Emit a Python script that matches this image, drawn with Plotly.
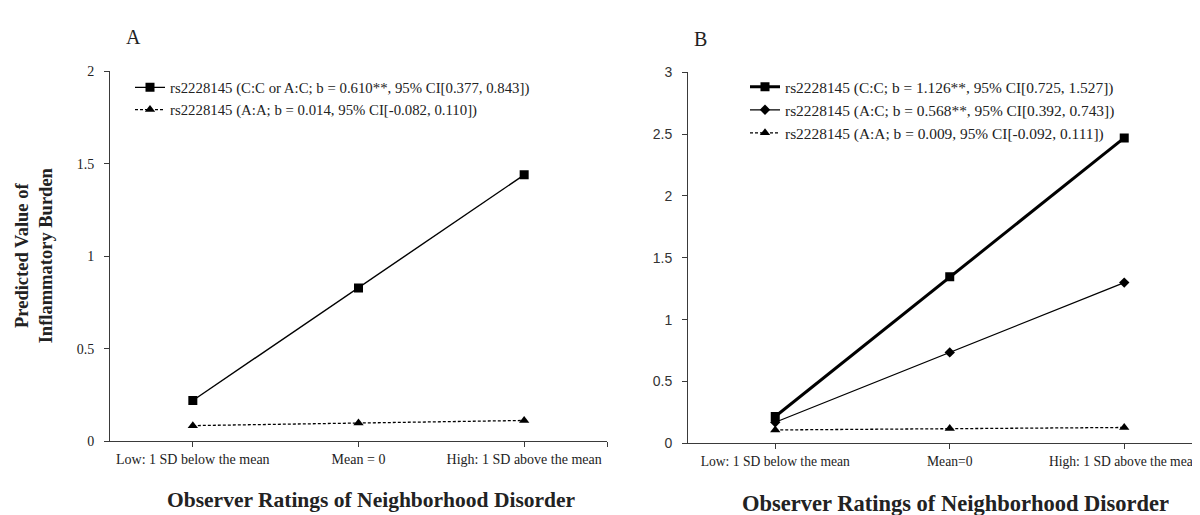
import plotly.graph_objects as go

# ---------------- data ----------------
cats_a = ["Low: 1 SD below the mean", "Mean = 0", "High: 1 SD above the mean"]
cats_b = ["Low: 1 SD below the mean", "Mean=0", "High: 1 SD above the mean"]
xpos = [0, 1, 2]

a_ccac = [0.221, 0.829, 1.440]
a_aa = [0.085, 0.099, 0.113]

b_cc = [0.217, 1.346, 2.469]
b_ac = [0.170, 0.735, 1.299]
b_aa = [0.108, 0.120, 0.128]

name_a1 = "rs2228145 (C:C or A:C; b = 0.610**, 95% CI[0.377, 0.843])"
name_a2 = "rs2228145 (A:A; b = 0.014, 95% CI[-0.082, 0.110])"
name_b1 = "rs2228145 (C:C; b = 1.126**, 95% CI[0.725, 1.527])"
name_b2 = "rs2228145 (A:C; b = 0.568**, 95% CI[0.392, 0.743])"
name_b3 = "rs2228145 (A:A; b = 0.009, 95% CI[-0.092, 0.111])"

yticks_a = [0, 0.5, 1, 1.5, 2]
yticks_b = [0, 0.5, 1, 1.5, 2, 2.5, 3]

W, H = 1200, 515
SERIF = "Liberation Serif, Times New Roman, serif"
SANS = "Liberation Sans, Arial, sans-serif"
AX = "#3a3a3a"

fig = go.Figure()

# Panel A
fig.add_trace(go.Scatter(x=xpos, y=a_ccac, mode="lines+markers", name=name_a1,
                         line=dict(color="black", width=1.4),
                         marker=dict(symbol="square", size=9, color="black"),
                         xaxis="x", yaxis="y", legend="legend"))
fig.add_trace(go.Scatter(x=xpos, y=a_aa, mode="lines+markers", name=name_a2,
                         line=dict(color="black", width=1.3, dash="3px,2px"),
                         marker=dict(symbol="triangle-up", size=9, color="black"),
                         xaxis="x", yaxis="y", legend="legend"))

# Panel B
fig.add_trace(go.Scatter(x=xpos, y=b_cc, mode="lines+markers", name=name_b1,
                         line=dict(color="black", width=3),
                         marker=dict(symbol="square", size=9, color="black"),
                         xaxis="x2", yaxis="y2", legend="legend2"))
fig.add_trace(go.Scatter(x=xpos, y=b_ac, mode="lines+markers", name=name_b2,
                         line=dict(color="black", width=1.3),
                         marker=dict(symbol="diamond", size=8, color="black"),
                         xaxis="x2", yaxis="y2", legend="legend2"))
fig.add_trace(go.Scatter(x=xpos, y=b_aa, mode="lines+markers", name=name_b3,
                         line=dict(color="black", width=1.3, dash="3px,2px"),
                         marker=dict(symbol="triangle-up", size=9, color="black"),
                         xaxis="x2", yaxis="y2", legend="legend2"))


def px_x(p):
    return p / W


def px_y(p):
    return 1 - p / H


axis_common = dict(showline=True, linecolor=AX, linewidth=1, showgrid=False,
                   zeroline=False, ticks="outside", ticklen=5, tickcolor=AX,
                   fixedrange=True)


def ann(text, x, y, size, family=SERIF, angle=0):
    return dict(text=text, x=px_x(x), y=px_y(y), xref="paper", yref="paper",
                xanchor="center", yanchor="middle", showarrow=False,
                textangle=angle, font=dict(family=family, size=size, color="#222"))


fig.update_layout(
    width=W, height=H,
    margin=dict(l=0, r=0, t=0, b=0),
    paper_bgcolor="white", plot_bgcolor="white",
    hovermode=False,
    xaxis=dict(domain=[px_x(102), px_x(599)], range=[-0.5, 2.5],
               tickvals=xpos + [2.5], ticktext=cats_a + [""],
               tickfont=dict(family=SERIF, size=14, color="#222"),
               anchor="y", **axis_common),
    yaxis=dict(domain=[px_y(439), px_y(57)], range=[0, 2],
               tickvals=yticks_a, ticktext=["0", "0.5", "1", "1.5", "2"],
               tickfont=dict(family=SERIF, size=14, color="#222"),
               ticklabelstandoff=7,
               anchor="x", **axis_common),
    xaxis2=dict(domain=[px_x(680), 1.0], range=[-0.5, 2.48],
                tickvals=xpos, ticktext=cats_b,
                tickfont=dict(family=SERIF, size=13.6, color="#222"),
                anchor="y2", **axis_common),
    yaxis2=dict(domain=[px_y(441), px_y(58)], range=[0, 3],
                tickvals=yticks_b, ticktext=["0", "0.5", "1", "1.5", "2", "2.5", "3"],
                tickfont=dict(family=SANS, size=14, color="#333"),
                ticklabelstandoff=7,
                anchor="x2", **axis_common),
    legend=dict(x=px_x(122), y=px_y(57), xanchor="left", yanchor="top",
                font=dict(family=SERIF, size=14.8, color="#222"),
                bgcolor="rgba(0,0,0,0)", tracegroupgap=0, itemwidth=30),
    legend2=dict(x=px_x(737), y=px_y(56), xanchor="left", yanchor="top",
                 font=dict(family=SERIF, size=15.4, color="#222"),
                 bgcolor="rgba(0,0,0,0)", tracegroupgap=0, itemwidth=30),
    annotations=[
        ann("A", 125, 22, 20),
        ann("B", 692, 24, 20),
        ann("<b>Predicted Value of<br>Inflammatory Burden</b>", 26, 247, 18.5, angle=-90),
        ann("<b>Observer Ratings of Neighborhood Disorder</b>", 363, 500, 21.5),
        ann("<b>Observer Ratings of Neighborhood Disorder</b>", 947, 503, 22.5),
    ],
)

fig.write_html("out.html")
